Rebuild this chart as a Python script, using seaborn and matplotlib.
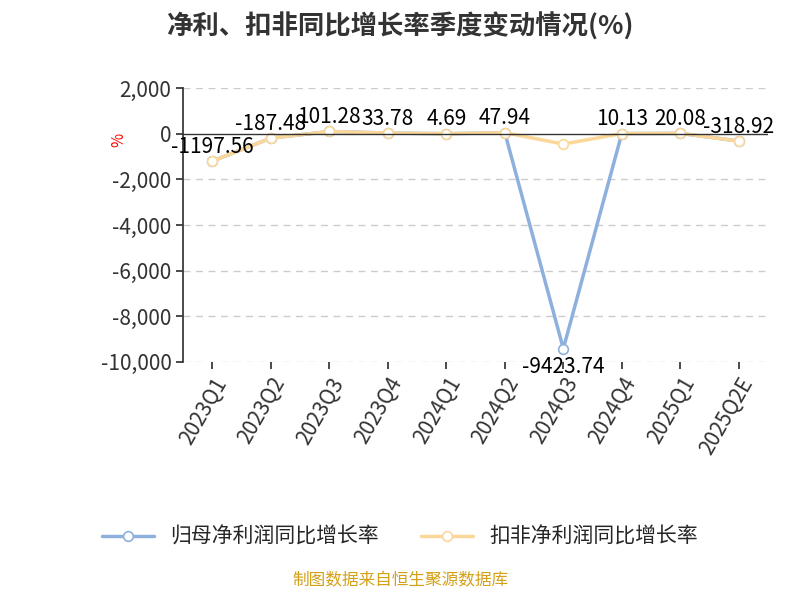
import matplotlib
matplotlib.use("Agg")
import matplotlib.pyplot as plt
import seaborn as sns
import pandas as pd

quarters = ["2023Q1","2023Q2","2023Q3","2023Q4","2024Q1","2024Q2","2024Q3","2024Q4","2025Q1","2025Q2E"]
net_growth = [-1197.56,-187.48,101.28,33.78,4.69,47.94,-9423.74,10.13,20.08,-318.92]
deduct_growth = [-1197.56,-187.48,101.28,33.78,4.69,47.94,-450.0,10.13,20.08,-318.92]
yticks = [2000,0,-2000,-4000,-6000,-8000,-10000]

sns.set_theme(style="white")
plt.rcParams['font.family'] = ['Noto Sans CJK SC', 'DejaVu Sans']

fig = plt.figure(figsize=(8,6), dpi=100)
ax = fig.add_axes([0.229, 0.397, 0.731, 0.456])
df = pd.DataFrame({"q": quarters, "a": net_growth, "b": deduct_growth})
x = list(range(len(quarters)))
blue = "#8eb0dd"; orange = "#fbd89a"
sns.lineplot(x=x, y=df["a"], ax=ax, color=blue, lw=2.5, marker="o", markersize=7,
             markerfacecolor="white", markeredgecolor=blue, markeredgewidth=1.2, label="归母净利润同比增长率")
sns.lineplot(x=x, y=df["b"], ax=ax, color=orange, lw=2.5, marker="o", markersize=7,
             markerfacecolor="white", markeredgecolor=orange, markeredgewidth=1.2, label="扣非净利润同比增长率")
for xi, v in zip(x, net_growth):
    ax.text(xi, v + (-300 if v < -5000 else 150), f"{v:.2f}", ha="center",
            va="top" if v < -5000 else "bottom", fontsize=15, color="black")
ax.set_xlim(-0.5, len(quarters)-0.5)
ax.set_ylim(-10000, 2000)
ax.set_yticks(yticks)
ax.set_yticklabels([f"{t:,}" for t in yticks], fontsize=15, color="#333333")
ax.set_xticks(x)
ax.set_xticklabels(quarters, rotation=60, ha="right", rotation_mode="anchor", fontsize=15, color="#333333")
ax.set_xlabel(""); ax.set_ylabel("")
for s in ["top","right","bottom"]:
    ax.spines[s].set_visible(False)
ax.spines["left"].set_color("#333333")
ax.axhline(0, color="#333333", lw=1)
for t in yticks:
    if t != 0:
        ax.axhline(t, color="#cccccc", lw=1, ls=(0,(5,4)), zorder=0)
ax.tick_params(axis="y", length=5, color="#333333", left=True)
ax.tick_params(axis="x", length=5, color="#333333", bottom=True)
ax.text(-0.11, 0.8, "%", transform=ax.transAxes, color="red", fontsize=11, rotation=90, ha="center")
handles, labels = ax.get_legend_handles_labels()
ax.get_legend().remove()
fig.legend(handles, labels, loc="center", bbox_to_anchor=(0.5, 0.105), ncol=2, frameon=False, fontsize=15,
           handlelength=2.5, columnspacing=2)
fig.text(0.5, 0.955, "净利、扣非同比增长率季度变动情况(%)", ha="center", va="center", fontsize=19,
         fontweight="bold", color="#333333")
fig.text(0.5, 0.018, "制图数据来自恒生聚源数据库", ha="center", va="bottom", fontsize=12, color="#d4a017")
fig.savefig("out.png", dpi=100)
